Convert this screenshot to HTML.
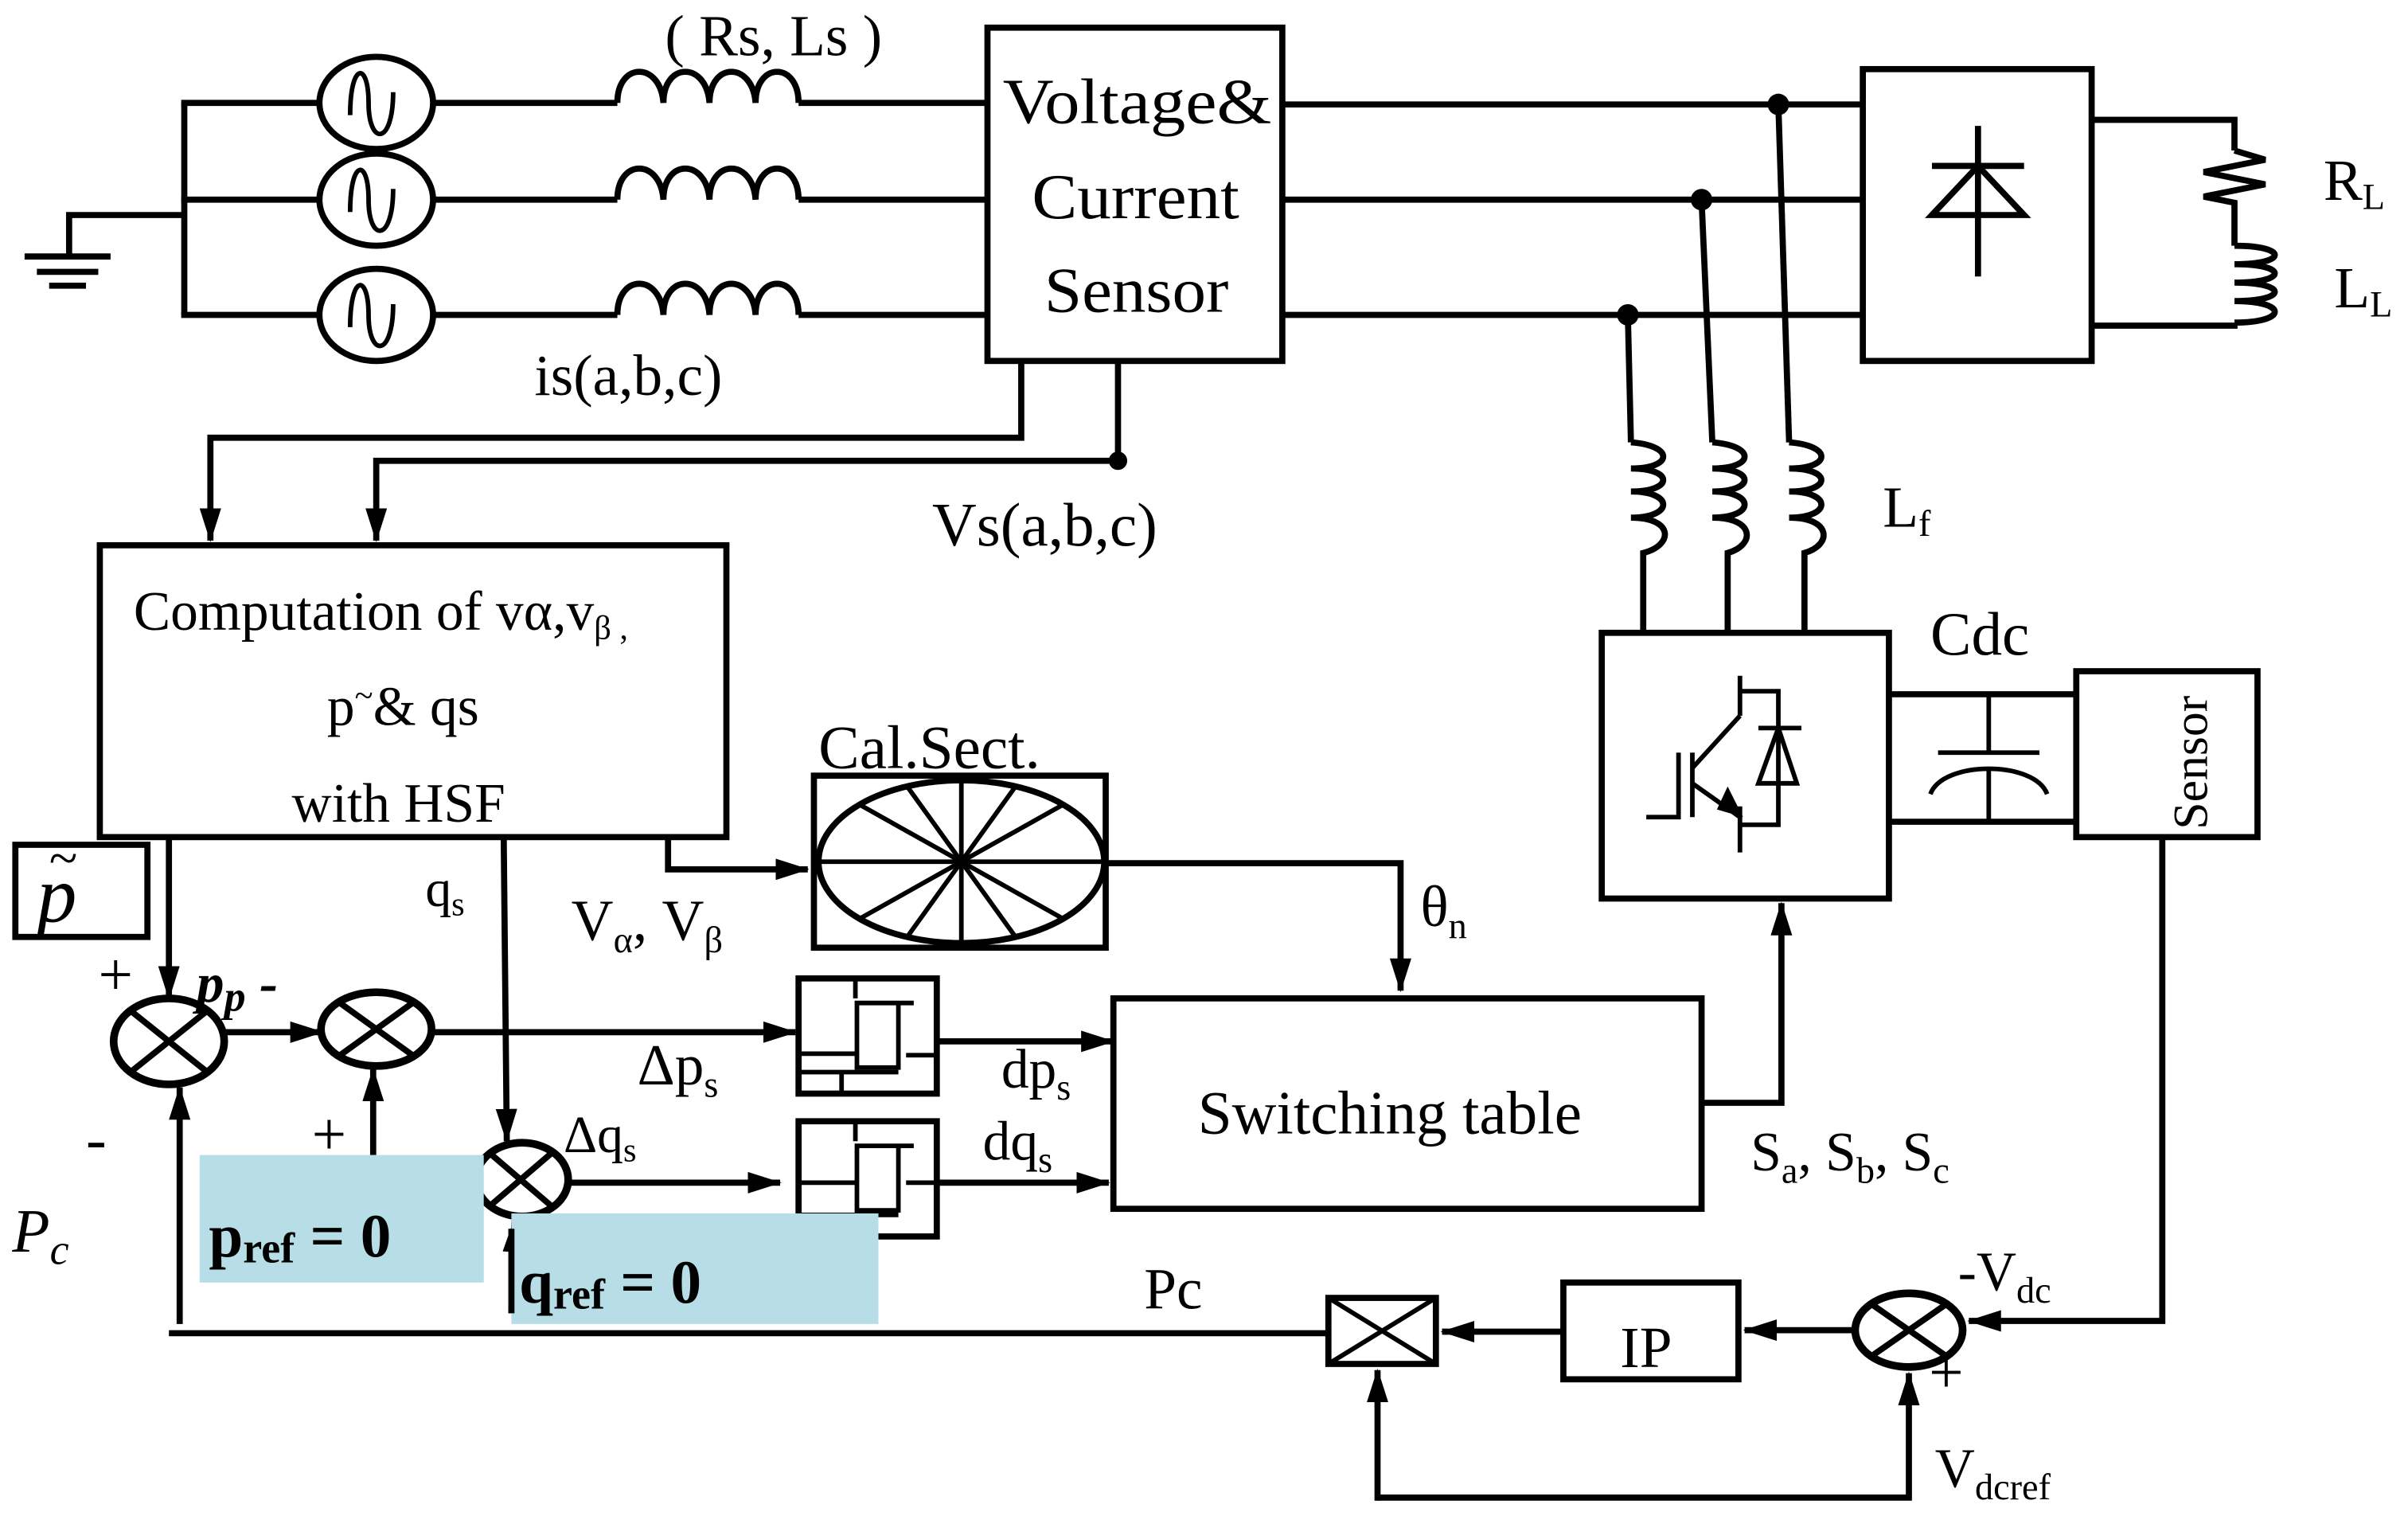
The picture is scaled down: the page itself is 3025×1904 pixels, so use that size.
<!DOCTYPE html>
<html><head><meta charset="utf-8"><style>
html,body{margin:0;padding:0;background:#fff;}
svg{display:block;}
text{font-family:"Liberation Serif",serif;fill:#000;}
</style></head><body>
<svg width="3025" height="1904" viewBox="0 0 1568 987" preserveAspectRatio="none" xmlns="http://www.w3.org/2000/svg">
<defs>
<marker id="a" markerWidth="22" markerHeight="14" refX="21" refY="7" orient="auto" markerUnits="userSpaceOnUse" viewBox="0 0 22 14"><path d="M0,0 L22,7 L0,14 z" fill="#000"/></marker>
</defs>
<g fill="none" stroke="#000" stroke-width="4">
<polyline points="120,67 120,205"/>
<line x1="118" y1="67" x2="208" y2="67"/>
<line x1="118" y1="130" x2="208" y2="130"/>
<line x1="118" y1="205" x2="208" y2="205"/>
<polyline points="120,140 45,140 45,167"/>
<line x1="16" y1="167" x2="72" y2="167"/>
<line x1="24" y1="177" x2="64" y2="177"/>
<line x1="32" y1="186" x2="56" y2="186"/>
<ellipse cx="245" cy="67" rx="37" ry="30"/>
<ellipse cx="245" cy="130" rx="37" ry="30"/>
<ellipse cx="245" cy="205" rx="37" ry="30"/>
<g stroke-width="3">
<path d="M228,75 C228,40 240,40 240,67 C240,95 256,95 256,60"/>
<path d="M228,138 C228,103 240,103 240,130 C240,158 256,158 256,123"/>
<path d="M228,213 C228,178 240,178 240,205 C240,233 256,233 256,198"/>
</g>
<line x1="282" y1="67" x2="402" y2="67"/>
<line x1="282" y1="130" x2="402" y2="130"/>
<line x1="282" y1="205" x2="402" y2="205"/>
<path d="M402,67 C402,40 430,40 432,67 C432,40 460,40 462,67 C462,40 490,40 492,67 C492,40 520,40 520,67"/>
<path d="M402,130 C402,103 430,103 432,130 C432,103 460,103 462,130 C462,103 490,103 492,130 C492,103 520,103 520,130"/>
<path d="M402,205 C402,178 430,178 432,205 C432,178 460,178 462,205 C462,178 490,178 492,205 C492,178 520,178 520,205"/>
<line x1="520" y1="67" x2="643" y2="67"/>
<line x1="520" y1="130" x2="643" y2="130"/>
<line x1="520" y1="205" x2="643" y2="205"/>
<rect x="643" y="18" width="192" height="217"/>
<line x1="835" y1="68" x2="1213" y2="68"/>
<line x1="835" y1="130" x2="1213" y2="130"/>
<line x1="835" y1="205" x2="1213" y2="205"/>
<rect x="1213" y="45" width="149" height="190"/>
<line x1="1288" y1="82" x2="1288" y2="180"/>
<path d="M1258,140 L1318,140 L1288,108 Z"/>
<line x1="1258" y1="108" x2="1318" y2="108"/>
<polyline points="1362,78 1455,78 1455,98"/>
<path d="M1455,98 L1475,104 L1435,112 L1475,120 L1435,128 L1455,132 L1455,160"/>
<path d="M1455,160 C1490,160 1490,172 1455,172 C1490,172 1490,184 1455,184 C1490,184 1490,196 1455,196 C1490,196 1490,210 1455,210"/>
<polyline points="1455,210 1455,212 1362,212"/>
<line x1="1158" y1="68" x2="1165" y2="288"/>
<line x1="1108" y1="130" x2="1115" y2="288"/>
<line x1="1060" y1="205" x2="1062" y2="288"/>
<path d="M1062,288 C1090,290 1090,305 1062,305 C1090,305 1090,320 1062,320 C1090,320 1090,337 1062,337 C1090,337 1090,355 1070,360 L1070,412"/>
<path d="M1115,288 C1143,290 1143,305 1115,305 C1143,305 1143,320 1115,320 C1143,320 1143,337 1115,337 C1143,337 1143,355 1125,360 L1125,412"/>
<path d="M1165,288 C1193,290 1193,305 1165,305 C1193,305 1193,320 1165,320 C1193,320 1193,337 1165,337 C1193,337 1193,355 1175,360 L1175,412"/>
<rect x="1043" y="412" width="187" height="173"/>
<g stroke-width="3">
<polyline points="1072,532 1093,532 1093,490"/>
<line x1="1102" y1="490" x2="1102" y2="532"/>
<line x1="1102" y1="500" x2="1133" y2="466"/>
<polyline points="1133,440 1133,466"/>
<polyline points="1133,450 1158,450 1158,537 1133,537"/>
<polyline points="1133,525 1133,555"/>
<line x1="1102" y1="510" x2="1133" y2="532"/>
<path d="M1145,510 L1170,510 L1158,474 Z"/>
<line x1="1145" y1="474" x2="1173" y2="474"/>
</g>
<path d="M1118,527 L1135,532 L1125,512 Z" fill="#000" stroke="none"/>
<line x1="1230" y1="452" x2="1352" y2="452"/>
<line x1="1230" y1="535" x2="1352" y2="535"/>
<line x1="1295" y1="452" x2="1295" y2="490" stroke-width="3"/>
<line x1="1262" y1="490" x2="1328" y2="490" stroke-width="3"/>
<path d="M1257,517 C1265,495 1325,495 1333,517" stroke-width="3"/>
<line x1="1295" y1="500" x2="1295" y2="535" stroke-width="3"/>
<rect x="1352" y="437" width="118" height="108"/>
<polyline points="1408,545 1408,860 1282,860" marker-end="url(#a)"/>
<polyline points="1108,718 1160,718 1160,588" marker-end="url(#a)"/>
<polyline points="665,235 665,285 137,285 137,352" marker-end="url(#a)"/>
<polyline points="728,235 728,300 245,300 245,352" marker-end="url(#a)"/>
<rect x="65" y="355" width="408" height="190"/>
<rect x="10" y="550" width="86" height="60"/>
<line x1="110" y1="545" x2="110" y2="650" marker-end="url(#a)"/>
<ellipse cx="110" cy="678" rx="36" ry="28" stroke-width="5"/>
<line x1="85" y1="658" x2="135" y2="698" stroke-width="4"/><line x1="135" y1="658" x2="85" y2="698" stroke-width="4"/>
<line x1="146" y1="672" x2="210" y2="672" marker-end="url(#a)"/>
<ellipse cx="245" cy="670" rx="36" ry="24" stroke-width="5"/>
<line x1="220" y1="652" x2="270" y2="688" stroke-width="4"/><line x1="270" y1="652" x2="220" y2="688" stroke-width="4"/>
<line x1="282" y1="672" x2="518" y2="672" marker-end="url(#a)"/>
<line x1="328" y1="545" x2="330" y2="743" marker-end="url(#a)"/>
<ellipse cx="340" cy="768" rx="30" ry="24" stroke-width="5"/>
<line x1="318" y1="750" x2="360" y2="786" stroke-width="4"/><line x1="360" y1="750" x2="318" y2="786" stroke-width="4"/>
<line x1="370" y1="770" x2="508" y2="770" marker-end="url(#a)"/>
<g>
<rect x="520" y="637" width="90" height="75"/>
<line x1="557" y1="637" x2="557" y2="650" stroke-width="3"/>
<polyline points="595,653 558,653 558,695 585,695 585,653" stroke-width="3"/>
<line x1="520" y1="686" x2="558" y2="686" stroke-width="3"/>
<line x1="590" y1="687" x2="610" y2="687" stroke-width="3"/>
<line x1="520" y1="698" x2="585" y2="698" stroke-width="3"/>
<line x1="548" y1="698" x2="548" y2="712" stroke-width="3"/>
</g>
<g transform="translate(0,93)">
<rect x="520" y="637" width="90" height="75"/>
<line x1="557" y1="637" x2="557" y2="650" stroke-width="3"/>
<polyline points="595,653 558,653 558,695 585,695 585,653" stroke-width="3"/>
<line x1="520" y1="677" x2="558" y2="677" stroke-width="3"/>
<line x1="590" y1="677" x2="610" y2="677" stroke-width="3"/>
<line x1="520" y1="698" x2="585" y2="698" stroke-width="3"/>
<line x1="548" y1="698" x2="548" y2="712" stroke-width="3"/>
</g>
<line x1="610" y1="678" x2="725" y2="678" marker-end="url(#a)"/>
<line x1="610" y1="770" x2="722" y2="770" marker-end="url(#a)"/>
<rect x="725" y="650" width="383" height="137"/>
<rect x="530" y="505" width="190" height="112"/>
<ellipse cx="626" cy="561" rx="93" ry="53"/>
<g stroke-width="3">
<line x1="533" y1="561" x2="719" y2="561"/>
<line x1="626" y1="508" x2="626" y2="614"/>
<line x1="560" y1="524" x2="692" y2="598"/>
<line x1="692" y1="524" x2="560" y2="598"/>
<line x1="590" y1="511" x2="662" y2="611"/>
<line x1="662" y1="511" x2="590" y2="611"/>
</g>
<polyline points="435,545 435,566 526,566" marker-end="url(#a)"/>
<polyline points="720,562 912,562 912,645" marker-end="url(#a)"/>
<line x1="117" y1="862" x2="117" y2="708" marker-end="url(#a)"/>
<line x1="243" y1="752" x2="243" y2="696" marker-end="url(#a)"/>
<line x1="333" y1="855" x2="335" y2="794" marker-end="url(#a)"/>
<line x1="110" y1="868" x2="865" y2="868"/>
<rect x="865" y="845" width="70" height="43"/>
<line x1="865" y1="845" x2="935" y2="888" stroke-width="3"/><line x1="935" y1="845" x2="865" y2="888" stroke-width="3"/>
<line x1="1018" y1="867" x2="939" y2="867" marker-end="url(#a)"/>
<rect x="1018" y="835" width="114" height="63"/>
<line x1="1208" y1="866" x2="1136" y2="866" marker-end="url(#a)"/>
<ellipse cx="1243" cy="866" rx="35" ry="24" stroke-width="5"/>
<line x1="1220" y1="850" x2="1266" y2="882" stroke-width="4"/><line x1="1266" y1="850" x2="1220" y2="882" stroke-width="4"/>
<polyline points="897,975 1243,975 1243,894" marker-end="url(#a)"/>
<line x1="897" y1="977" x2="897" y2="892" marker-end="url(#a)"/>
</g>
<g fill="#000">
<circle cx="1158" cy="68" r="7"/><circle cx="1108" cy="130" r="7"/><circle cx="1060" cy="205" r="7"/><circle cx="728" cy="300" r="6"/>
</g>
<rect x="130" y="752" width="185" height="83" fill="#b7dde7"/>
<rect x="333" y="790" width="239" height="72" fill="#b7dde7"/>
<line x1="333" y1="800" x2="333" y2="855" stroke="#000" stroke-width="4"/>
<g font-size="38">
<text x="433" y="36">( Rs, Ls )</text>
<text x="653" y="80" font-size="42" textLength="175" lengthAdjust="spacingAndGlyphs">Voltage&amp;</text>
<text x="672" y="142" font-size="42" textLength="135" lengthAdjust="spacingAndGlyphs">Current</text>
<text x="680" y="203" font-size="42" textLength="120" lengthAdjust="spacingAndGlyphs">Sensor</text>
<text x="348" y="257">is(a,b,c)</text>
<text x="607" y="355" font-size="40">Vs(a,b,c)</text>
<text x="1513" y="130">R<tspan font-size="24" dy="6">L</tspan></text>
<text x="1520" y="200">L<tspan font-size="24" dy="6">L</tspan></text>
<text x="1226" y="343">L<tspan font-size="24" dy="6">f</tspan></text>
<text x="1257" y="426" font-size="40">Cdc</text>
<text x="87" y="410" font-size="36">Computation of vα,v<tspan font-size="22" dy="6">β ,</tspan></text>
<text x="213" y="472" font-size="36">p<tspan font-size="22" dy="-12">~</tspan><tspan dy="12">&amp; qs</tspan></text>
<text x="190" y="535" font-size="36">with HSF</text>
<text x="533" y="500" font-size="40">Cal.Sect.</text>
<text x="277" y="590" font-size="34">q<tspan font-size="22" dy="6">s</tspan></text>
<text x="372" y="612">V<tspan font-size="24" dy="8">α</tspan><tspan dy="-8">, V</tspan><tspan font-size="24" dy="8">β</tspan></text>
<text x="925" y="603">θ<tspan font-size="24" dy="8">n</tspan></text>
<text x="780" y="738" font-size="40">Switching table</text>
<text x="415" y="706">Δp<tspan font-size="24" dy="8">s</tspan></text>
<text x="367" y="750" font-size="34">Δq<tspan font-size="22" dy="6">s</tspan></text>
<text x="652" y="708" font-size="36">dp<tspan font-size="24" dy="8">s</tspan></text>
<text x="640" y="755" font-size="36">dq<tspan font-size="24" dy="8">s</tspan></text>
<text x="1140" y="762" font-size="36">S<tspan font-size="24" dy="8">a</tspan><tspan dy="-8">, S</tspan><tspan font-size="24" dy="8">b</tspan><tspan dy="-8">, S</tspan><tspan font-size="24" dy="8">c</tspan></text>
<text x="745" y="852">Pc</text>
<text x="1055" y="890">IP</text>
<text x="1275" y="840" font-size="36">-V<tspan font-size="24" dy="8">dc</tspan></text>
<text x="1260" y="968" font-size="36">V<tspan font-size="24" dy="8">dcref</tspan></text>
<text x="1256" y="907" font-size="40">+</text>
<text x="64" y="648" font-size="40">+</text>
<text x="128" y="652" font-size="36" font-style="italic" font-weight="bold">p<tspan font-size="28" dy="6">p</tspan><tspan dy="-6"> -</tspan></text>
<text x="56" y="755" font-size="40">-</text>
<text x="203" y="752" font-size="40">+</text>
<text x="8" y="815" font-size="40" font-style="italic">P<tspan font-size="28" dy="8">c</tspan></text>
<text x="136" y="818" font-size="40" font-weight="bold">p<tspan font-size="28" dy="4">ref</tspan><tspan dy="-4"> = 0</tspan></text>
<text x="338" y="848" font-size="40" font-weight="bold">q<tspan font-size="28" dy="4">ref</tspan><tspan dy="-4"> = 0</tspan></text>
<text x="24" y="600" font-size="52" font-style="italic">p</text>
<text x="32" y="570" font-size="34">~</text>
<text transform="translate(1437,540) rotate(-90)" font-size="32">Sensor</text>
</g>
</svg>
</body></html>
